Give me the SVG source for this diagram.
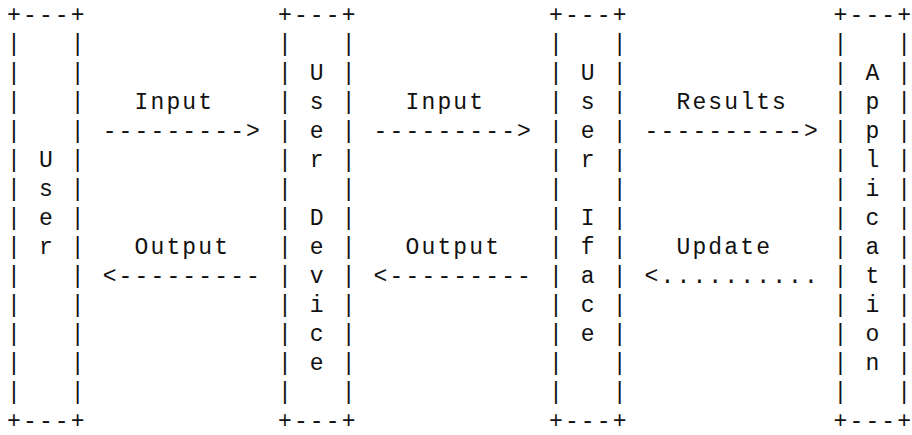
<svg xmlns="http://www.w3.org/2000/svg" width="912" height="435" viewBox="0 0 912 435" xml:space="preserve">
<style>
text { font-family: "Liberation Mono", "Courier New", monospace; font-size: 23px; letter-spacing: 2.14px; fill: #111; white-space: pre; }
.e { letter-spacing: 0; }
</style>
<rect width="912" height="435" fill="#fff"/>
<g id="user">
<text><tspan x="7" y="21.5">+---+</tspan><tspan x="7" y="50.5">|   |</tspan><tspan x="7" y="79.5">|   |</tspan><tspan x="7" y="108.5">|   |</tspan><tspan x="7" y="137.5">|   |</tspan><tspan x="7" y="166.5">| U |</tspan><tspan x="7" y="195.5">| s |</tspan><tspan x="7" y="224.5">| e |</tspan><tspan x="7" y="253.5">| r |</tspan><tspan x="7" y="282.5">|   |</tspan><tspan x="7" y="311.5">|   |</tspan><tspan x="7" y="340.5">|   |</tspan><tspan x="7" y="369.5">|   |</tspan><tspan x="7" y="398.5">|   |</tspan><tspan x="7" y="427.5">+---+</tspan></text>
</g>
<g id="user-device">
<text><tspan x="277.98" y="21.5">+---+</tspan><tspan x="277.98" y="50.5">|   |</tspan><tspan x="277.98" y="79.5">| U |</tspan><tspan x="277.98" y="108.5">| s |</tspan><tspan x="277.98" y="137.5">| e |</tspan><tspan x="277.98" y="166.5">| r |</tspan><tspan x="277.98" y="195.5">|   |</tspan><tspan x="277.98" y="224.5">| D |</tspan><tspan x="277.98" y="253.5">| e |</tspan><tspan x="277.98" y="282.5">| v |</tspan><tspan x="277.98" y="311.5">| i |</tspan><tspan x="277.98" y="340.5">| c |</tspan><tspan x="277.98" y="369.5">| e |</tspan><tspan x="277.98" y="398.5">|   |</tspan><tspan x="277.98" y="427.5">+---+</tspan></text>
</g>
<g id="user-iface">
<text><tspan x="548.96" y="21.5">+---+</tspan><tspan x="548.96" y="50.5">|   |</tspan><tspan x="548.96" y="79.5">| U |</tspan><tspan x="548.96" y="108.5">| s |</tspan><tspan x="548.96" y="137.5">| e |</tspan><tspan x="548.96" y="166.5">| r |</tspan><tspan x="548.96" y="195.5">|   |</tspan><tspan x="548.96" y="224.5">| I |</tspan><tspan x="548.96" y="253.5">| f |</tspan><tspan x="548.96" y="282.5">| a |</tspan><tspan x="548.96" y="311.5">| c |</tspan><tspan x="548.96" y="340.5">| e |</tspan><tspan x="548.96" y="369.5">|   |</tspan><tspan x="548.96" y="398.5">|   |</tspan><tspan x="548.96" y="427.5">+---+</tspan></text>
</g>
<g id="application">
<text><tspan x="833.5" y="21.5">+---</tspan><tspan class="e">+</tspan><tspan x="833.5" y="50.5">|   </tspan><tspan class="e">|</tspan><tspan x="833.5" y="79.5">| A </tspan><tspan class="e">|</tspan><tspan x="833.5" y="108.5">| p </tspan><tspan class="e">|</tspan><tspan x="833.5" y="137.5">| p </tspan><tspan class="e">|</tspan><tspan x="833.5" y="166.5">| l </tspan><tspan class="e">|</tspan><tspan x="833.5" y="195.5">| i </tspan><tspan class="e">|</tspan><tspan x="833.5" y="224.5">| c </tspan><tspan class="e">|</tspan><tspan x="833.5" y="253.5">| a </tspan><tspan class="e">|</tspan><tspan x="833.5" y="282.5">| t </tspan><tspan class="e">|</tspan><tspan x="833.5" y="311.5">| i </tspan><tspan class="e">|</tspan><tspan x="833.5" y="340.5">| o </tspan><tspan class="e">|</tspan><tspan x="833.5" y="369.5">| n </tspan><tspan class="e">|</tspan><tspan x="833.5" y="398.5">|   </tspan><tspan class="e">|</tspan><tspan x="833.5" y="427.5">+---</tspan><tspan class="e">+</tspan></text>
</g>
<g id="connectors">
<text x="134.52" y="108.5">Input</text>
<text x="102.64" y="137.5">---------&gt;</text>
<text x="134.52" y="253.5">Output</text>
<text x="102.64" y="282.5">&lt;---------</text>
<text x="405.5" y="108.5">Input</text>
<text x="373.62" y="137.5">---------&gt;</text>
<text x="405.5" y="253.5">Output</text>
<text x="373.62" y="282.5">&lt;---------</text>
<text x="676.48" y="108.5">Results</text>
<text x="644.6" y="137.5">----------&gt;</text>
<text x="676.48" y="253.5">Update</text>
<text x="644.6" y="282.5">&lt;..........</text>
</g>
</svg>
